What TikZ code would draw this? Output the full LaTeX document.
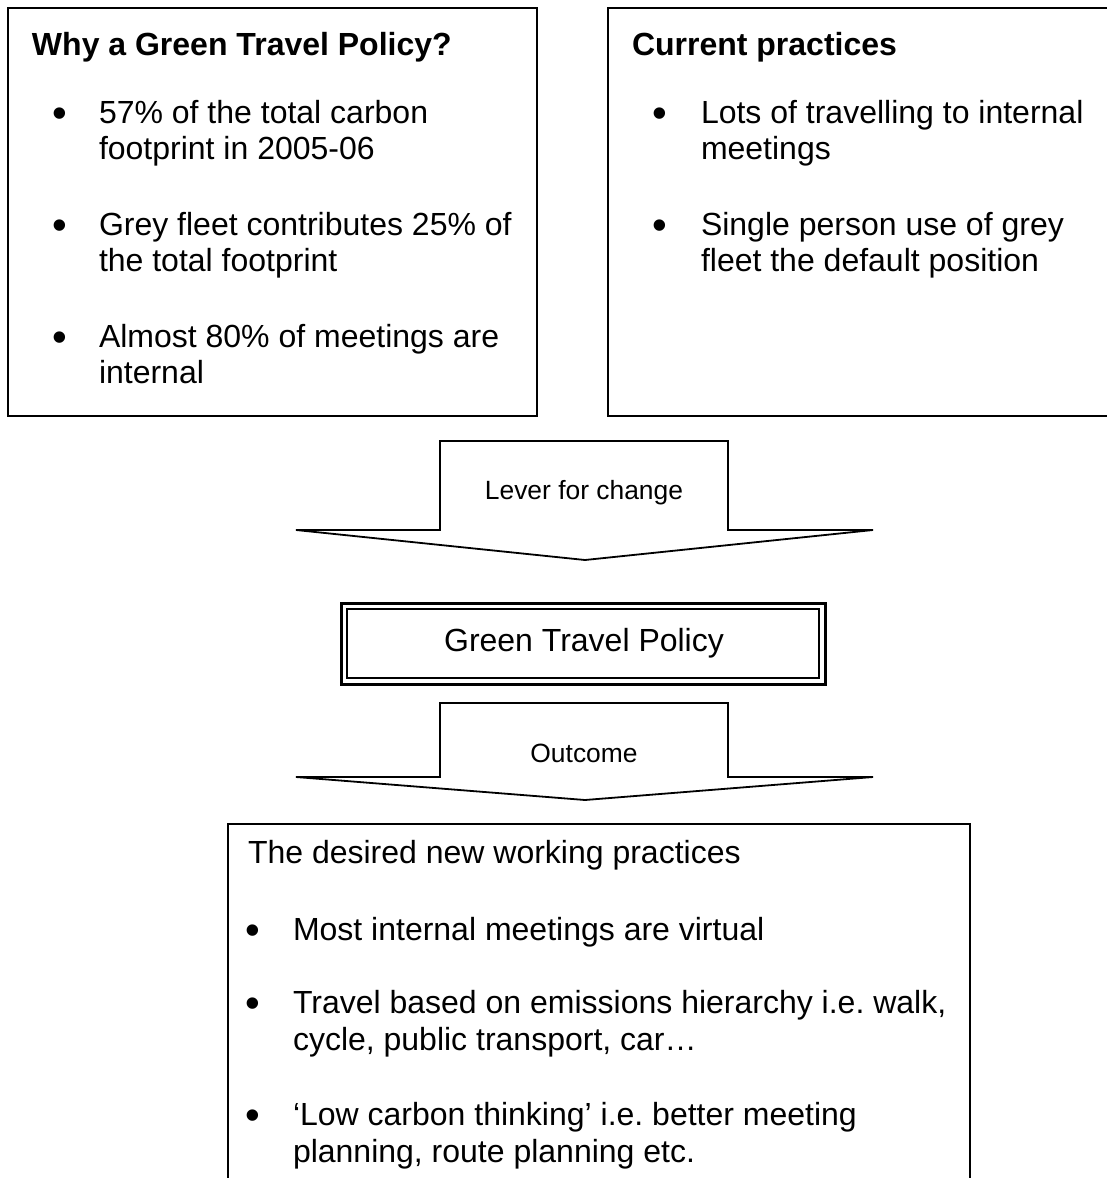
\documentclass[tikz,border=0pt]{standalone}
\usepackage{fontspec}
\setmainfont{Liberation Sans}
\frenchspacing
\begin{document}
\begin{tikzpicture}[x=0.5pt,y=-0.5pt,
  txt/.style={inner sep=0pt,outer sep=0pt,font=\fontsize{16pt}{18pt}\selectfont},
  ttl/.style={txt,font=\fontsize{16pt}{18pt}\selectfont\bfseries,anchor=base west},
  ln/.style={txt,anchor=base west},
  bul/.style={inner sep=0pt,outer sep=0pt,font=\fontsize{21pt}{22pt}\selectfont,anchor=base,yshift=-2pt},
  small/.style={inner sep=0pt,outer sep=0pt,font=\fontsize{13.2pt}{15pt}\selectfont,anchor=base},
  boxline/.style={draw=black,line width=1.1pt},
  arrowline/.style={draw=black,line width=0.9pt,line join=miter}]
\clip (0,0) rectangle (1107,1178);
\fill[white] (0,0) rectangle (1107,1178);

% Box 1
\draw[boxline] (8,8) rectangle (537,416);
\node[ttl] (t1) at (32,55) {Why a Green Travel Policy?};
\node[bul] (b11) at (60,123) {•};
\node[ln] (l11a) at (99,123) {57\% of the total carbon};
\node[ln] (l11b) at (99,159) {footprint in 2005-06};
\node[bul] (b12) at (60,235) {•};
\node[ln] (l12a) at (99,235) {Grey fleet contributes 25\% of};
\node[ln] (l12b) at (99,271) {the total footprint};
\node[bul] (b13) at (60,347) {•};
\node[ln] (l13a) at (99,347) {Almost 80\% of meetings are};
\node[ln] (l13b) at (99,383) {internal};

% Box 2
\draw[boxline] (608,8) rectangle (1120,416);
\node[ttl] (t2) at (632,55) {Current practices};
\node[bul] (b21) at (660,123) {•};
\node[ln] (l21a) at (701,123) {Lots of travelling to internal};
\node[ln] (l21b) at (701,159) {meetings};
\node[bul] (b22) at (660,235) {•};
\node[ln] (l22a) at (701,235) {Single person use of grey};
\node[ln] (l22b) at (701,271) {fleet the default position};

% Arrow 1
\draw[arrowline] (440,441) -- (728,441) -- (728,530) -- (873,530) -- (585,560)
  -- (296,530) -- (440,530) -- cycle;
\node[small] (a1) at (584,499) {Lever for change};

% Green Travel Policy double box
\draw[black,line width=1.5pt] (341,603) rectangle (825,684);
\draw[black,line width=1pt] (347,609) rectangle (819,678);
\node[txt,anchor=base] (gtp) at (584,651) {Green Travel Policy};

% Arrow 2
\draw[arrowline] (440,703) -- (728,703) -- (728,777) -- (873,777) -- (585,800)
  -- (296,777) -- (440,777) -- cycle;
\node[small] (a2) at (584,762) {Outcome};

% Box 3
\draw[boxline] (228,824) rectangle (970,1200);
\node[ln] (l30) at (248,863) {The desired new working practices};
\node[bul] (b31) at (253,940) {•};
\node[ln] (l31) at (293,940) {Most internal meetings are virtual};
\node[bul] (b32) at (253,1013) {•};
\node[ln] (l32a) at (293,1013) {Travel based on emissions hierarchy i.e. walk,};
\node[ln] (l32b) at (293,1050) {cycle, public transport, car…};
\node[bul] (b33) at (253,1125) {•};
\node[ln] (l33a) at (293,1125) {‘Low carbon thinking’ i.e. better meeting};
\node[ln] (l33b) at (293,1162) {planning, route planning etc.};
\end{tikzpicture}
\end{document}
